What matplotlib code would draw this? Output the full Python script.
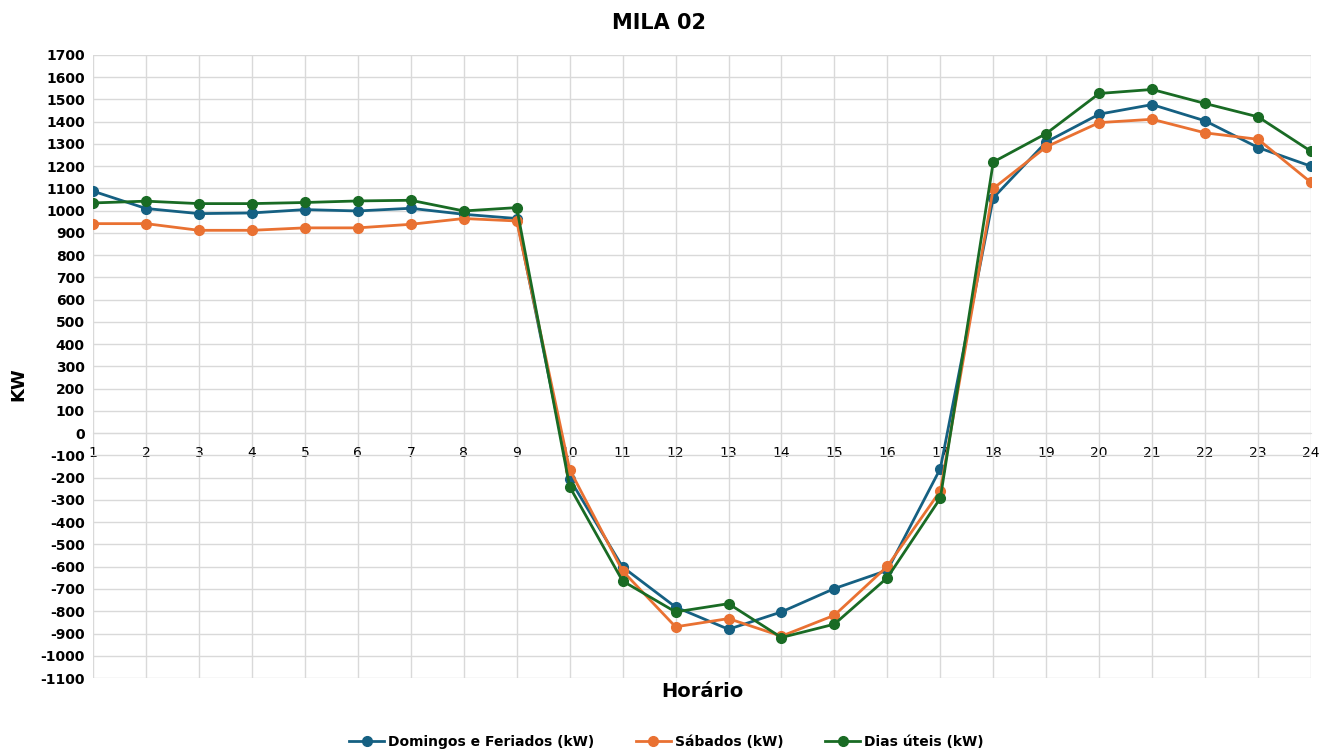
import matplotlib
matplotlib.use("Agg")
import matplotlib.pyplot as plt

hours = list(range(1, 25))
domingos = [1088, 1010, 987, 990, 1005, 999, 1011, 984, 965, -205, -601, -781,
            -881, -803, -698, -616, -159, 1058, 1309, 1434, 1477, 1404, 1284, 1200]
sabados = [942, 942, 912, 912, 923, 923, 939, 965, 954, -163, -619, -870,
           -833, -912, -818, -598, -259, 1100, 1287, 1396, 1411, 1350, 1321, 1127]
uteis = [1035, 1043, 1032, 1032, 1037, 1044, 1047, 999, 1014, -240, -664, -803,
         -766, -918, -858, -649, -292, 1219, 1347, 1527, 1545, 1482, 1422, 1267]
yticks = list(range(-1100, 1701, 100))

series = [
    ("Domingos e Feriados (kW)", domingos, "#156082"),
    ("Sábados (kW)", sabados, "#E97132"),
    ("Dias úteis (kW)", uteis, "#196B24"),
]

plt.rcParams['font.family'] = ['DejaVu Sans']

fig = plt.figure(figsize=(13.33, 7.51), dpi=100)
ax = fig.add_axes([0.0698, 0.0972, 0.9137, 0.8296])

for name, vals, col in series:
    ax.plot(hours, vals, color=col, lw=2, marker='o', ms=7, label=name, zorder=3)

ax.set_xlim(1, 24)
ax.set_ylim(-1100, 1700)
ax.set_yticks(yticks)
ax.set_yticklabels([str(v) for v in yticks], fontsize=10, fontweight='bold')
ax.set_xticks(hours)
ax.set_xticklabels([str(h) for h in hours], fontsize=10, fontweight='bold')
ax.grid(True, color='#d9d9d9', lw=1)
ax.set_axisbelow(True)
for s in ['top', 'right', 'left']:
    ax.spines[s].set_visible(False)
ax.spines['bottom'].set_position(('data', 0))
ax.spines['bottom'].set_color('#d9d9d9')
ax.tick_params(axis='both', length=0)
ax.tick_params(axis='x', pad=9)
ax.tick_params(axis='y', pad=6)

fig.text(0.4945, 0.970, "MILA 02", ha='center', va='center', fontsize=15, fontweight='bold')
fig.text(0.014, 0.488, "KW", ha='center', va='center', rotation=90, fontsize=13, fontweight='bold')
fig.text(0.527, 0.079, "Horário", ha='center', va='center', fontsize=14, fontweight='bold')

fig.legend(loc='center', bbox_to_anchor=(0.5, 0.012), ncol=3, frameon=False,
           prop={'size': 10, 'weight': 'bold'}, handlelength=2.5, columnspacing=3,
           handletextpad=0.3)

fig.savefig("out.png", dpi=100, facecolor='white')
